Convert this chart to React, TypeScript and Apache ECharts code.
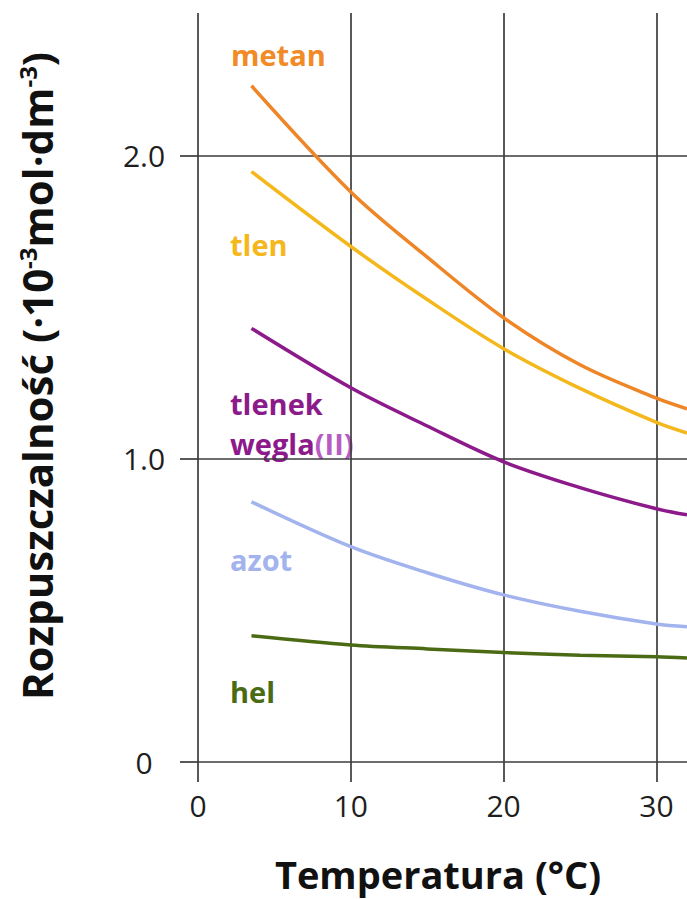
import React, { useEffect, useRef } from "react";
import * as echarts from "echarts";

// Temperature (°C) sample points along each curve
const temperatures = [3.5, 10, 15, 20, 25, 30, 32];
// Solubility (·10^-3 mol·dm^-3)
const metan = [2.23, 1.88, 1.665, 1.465, 1.31, 1.2, 1.165];
const tlen = [1.947, 1.7, 1.525, 1.363, 1.232, 1.12, 1.085];
const tlenekWegla = [1.43, 1.234, 1.108, 0.99, 0.905, 0.835, 0.815];
const azot = [0.858, 0.71, 0.624, 0.551, 0.497, 0.455, 0.446];
const hel = [0.416, 0.386, 0.373, 0.361, 0.352, 0.347, 0.343];

const xTicks = [0, 10, 20, 30];
const yTicks = [0, 1, 2];

const seriesNames = ["metan", "tlen", "tlenek węgla(II)", "azot", "hel"];
const seriesColors = ["#EE8526", "#F4B81C", "#8C1A8A", "#A2B3EE", "#4B6A14"];

const FONT = "'Open Sans', 'Noto Sans', sans-serif";
const GRID_COLOR = "#3c3c3c";

export default function App() {
  const ref = useRef<HTMLDivElement>(null);

  useEffect(() => {
    if (!ref.current) return;
    const chart = echarts.init(ref.current, undefined, { renderer: "svg" });
    const seriesData = [metan, tlen, tlenekWegla, azot, hel];

    const labelText = (text: string, x: number, y: number, color: string, rich?: any) => ({
      type: "text",
      x,
      y,
      style: {
        text,
        fill: color,
        font: `bold 29px ${FONT}`,
        textAlign: "left",
        textVerticalAlign: "middle",
        rich,
      },
    });

    chart.setOption({
      animation: false,
      backgroundColor: "#ffffff",
      grid: { left: 198, right: 0, top: 13, bottom: 137, containLabel: false },
      xAxis: {
        type: "value",
        min: 0,
        max: 32,
        interval: 10,
        axisLine: { show: false },
        axisTick: {
          show: true,
          length: 20,
          customValues: xTicks,
          lineStyle: { color: GRID_COLOR, width: 1.7 },
        },
        axisLabel: {
          customValues: xTicks,
          margin: 28,
          fontSize: 30,
          fontFamily: FONT,
          color: "#1e1e1e",
          formatter: (v: number) => String(v),
        },
        splitLine: {
          show: true,
          lineStyle: { color: GRID_COLOR, width: 1.7 },
        },
      },
      yAxis: {
        type: "value",
        min: 0,
        max: 2.47,
        interval: 1,
        axisLine: { show: false },
        axisTick: {
          show: true,
          length: 18,
          customValues: yTicks,
          lineStyle: { color: GRID_COLOR, width: 1.7 },
        },
        axisLabel: {
          customValues: yTicks,
          margin: 54,
          align: "center",
          fontSize: 30,
          fontFamily: FONT,
          color: "#1e1e1e",
          formatter: (v: number) => (v === 0 ? "0" : v.toFixed(1)),
        },
        splitLine: {
          show: true,
          lineStyle: { color: GRID_COLOR, width: 1.7 },
        },
      },
      series: seriesData.map((vals, i) => ({
        name: seriesNames[i],
        type: "line",
        smooth: 0.33,
        symbol: "none",
        clip: true,
        lineStyle: { color: seriesColors[i], width: 3.5 },
        data: temperatures.map((t, j) => [t, vals[j]]),
      })),
      graphic: [
        {
          type: "text",
          x: 36,
          y: 376,
          rotation: Math.PI / 2,
          style: {
            text: "Rozpuszczalność (·10{sup|-3}mol·dm{sup|-3})",
            fill: "#111",
            font: `bold 42px ${FONT}`,
            textAlign: "center",
            textVerticalAlign: "middle",
            rich: {
              sup: { fontSize: 24, fontWeight: "bold", fontFamily: FONT, verticalAlign: "top", fill: "#111" },
            },
          },
        },
        {
          type: "text",
          x: 438,
          y: 874,
          style: {
            text: "Temperatura (°C)",
            fill: "#111",
            font: `bold 38px ${FONT}`,
            textAlign: "center",
            textVerticalAlign: "middle",
          },
        },
        labelText("metan", 231, 54, "#F28A26"),
        labelText("tlen", 230, 244, "#F4B81C"),
        labelText("tlenek", 230, 403, "#8C1A8A"),
        labelText("węgla{ii|(II)}", 230, 443, "#8C1A8A", {
          ii: { fontSize: 29, fontWeight: "bold", fontFamily: FONT, fill: "#B85CC2" },
        }),
        labelText("azot", 230, 559, "#A2B3EE"),
        labelText("hel", 230, 691, "#4B6A14"),
      ],
    });

    return () => chart.dispose();
  }, []);

  return (
    <div
      ref={ref}
      style={{ position: "fixed", left: 0, top: 0, width: 687, height: 899, background: "#fff" }}
    />
  );
}
